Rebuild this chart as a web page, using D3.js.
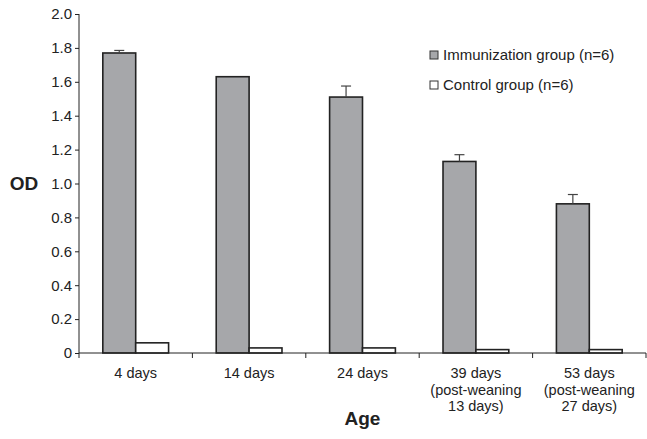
<!DOCTYPE html>
<html>
<head>
<meta charset="utf-8" />
<title>OD by age</title>
<style>
    body { margin: 0; background: #fff; }
    text { font-family: "Liberation Sans", Arial, sans-serif; fill: #222; }
</style>
</head>
<body>
    <div id="container"></div>
<script src="https://cdn.jsdelivr.net/npm/d3@7"></script>
<script>
    const categories = ['4 days', '14 days', '24 days', '39 days\n(post-weaning\n13 days)', '53 days\n(post-weaning\n27 days)']
    const seriesNames = ['Immunization group (n=6)', 'Control group (n=6)']
    const immunization = [1.77, 1.63, 1.51, 1.13, 0.88]
    const immunizationErr = [0.015, 0, 0.065, 0.04, 0.055]
    const control = [0.06, 0.03, 0.03, 0.02, 0.02]
    const yTicks = [0, 0.2, 0.4, 0.6, 0.8, 1.0, 1.2, 1.4, 1.6, 1.8, 2.0]

    const margin = { top: 14, right: 1, bottom: 86, left: 79 }
    const width = 647 - margin.left - margin.right
    const height = 439 - margin.top - margin.bottom

    let svg = d3.select('#container').append('svg').attr('width', 647).attr('height', 439)
    let chart = svg.append('g').attr('transform', `translate(${margin.left}, ${margin.top})`)

    let x = d3.scaleBand().domain(categories).range([0, width]).padding(0)
    let inner = d3.scaleBand().domain(seriesNames).range([x.bandwidth() * 0.21, x.bandwidth() * 0.79]).padding(0)
    let y = d3.scaleLinear().domain([0, 2]).range([height, 0])

    const fills = ['#a6a7aa', '#ffffff']
    const seriesData = [immunization, control]

    // y axis
    let axisY = d3.axisLeft(y).tickValues(yTicks).tickSize(4).tickPadding(3)
        .tickFormat(d => d === 0 ? '0' : d3.format('.1f')(d))
    let gy = chart.append('g').call(axisY)
    gy.select('.domain').attr('stroke', '#222').attr('d', `M0,${height}V0`)
    gy.selectAll('.tick line').attr('stroke', '#222')
    gy.selectAll('.tick text').style('font-size', '15px').attr('fill', '#222')

    // bars
    seriesData.forEach((vals, si) => {
        chart.append('g').selectAll('rect').data(vals).join('rect')
            .attr('x', (d, i) => x(categories[i]) + inner(seriesNames[si]))
            .attr('y', d => y(d))
            .attr('width', inner.bandwidth())
            .attr('height', d => height - y(d))
            .attr('fill', fills[si])
            .attr('stroke', '#222')
            .attr('stroke-width', 1.6)
    })

    // error bars
    let eg = chart.append('g')
    immunization.forEach((v, i) => {
        if (!immunizationErr[i]) return
        let cx = x(categories[i]) + inner(seriesNames[0]) + inner.bandwidth() / 2
        eg.append('line').attr('x1', cx).attr('x2', cx).attr('y1', y(v)).attr('y2', y(v + immunizationErr[i]))
            .attr('stroke', '#444').attr('stroke-width', 1.2)
        eg.append('line').attr('x1', cx - 5).attr('x2', cx + 5).attr('y1', y(v + immunizationErr[i])).attr('y2', y(v + immunizationErr[i]))
            .attr('stroke', '#444').attr('stroke-width', 1.2)
    })

    // x axis with ticks at category boundaries
    let gx = chart.append('g').attr('transform', `translate(0, ${height})`)
    gx.append('line').attr('x1', 0).attr('x2', width).attr('stroke', '#222')
    categories.forEach((c, i) => {
        gx.append('line').attr('x1', x(c)).attr('x2', x(c)).attr('y1', 0).attr('y2', 5).attr('stroke', '#222')
    })
    gx.append('line').attr('x1', width).attr('x2', width).attr('y1', 0).attr('y2', 5).attr('stroke', '#222')
    categories.forEach(c => {
        let t = gx.append('text').attr('text-anchor', 'middle').style('font-size', '14.5px')
            .attr('transform', `translate(${x(c) + x.bandwidth() / 2}, 25)`)
        c.split('\n').forEach((line, li) => {
            t.append('tspan').attr('x', 0).attr('dy', li === 0 ? 0 : 16.5).text(line)
        })
    })

    // axis titles
    svg.append('text').attr('x', 24).attr('y', 190).attr('text-anchor', 'middle')
        .style('font-size', '19px').style('font-weight', 'bold').text('OD')
    svg.append('text').attr('x', margin.left + width / 2).attr('y', 425).attr('text-anchor', 'middle')
        .style('font-size', '19px').style('font-weight', 'bold').text('Age')

    // legend
    let legend = svg.append('g').attr('transform', 'translate(430, 51)')
    seriesNames.forEach((name, i) => {
        let row = legend.append('g').attr('transform', `translate(0, ${i * 30})`)
        row.append('rect').attr('width', 8).attr('height', 8).attr('fill', fills[i]).attr('stroke', '#333').attr('stroke-width', 1)
        row.append('text').attr('x', 13).attr('y', 9).style('font-size', '15px').text(name)
    })
</script>
</body>
</html>
